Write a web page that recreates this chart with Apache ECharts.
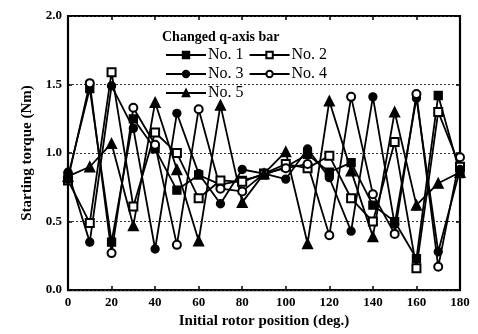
<!DOCTYPE html>
<html>
<head>
<meta charset="utf-8">
<script src="https://cdn.jsdelivr.net/npm/echarts@6/dist/echarts.min.js"></script>
<style>
  html, body { margin: 0; padding: 0; background: #fff; }
  #chart { width: 478px; height: 334px; }
</style>
</head>
<body>
<div id="chart"></div>
<script>
// Initial rotor position (deg.)
var positions = [0, 10, 20, 30, 40, 50, 60, 70, 80, 90, 100, 110, 120, 130, 140, 150, 160, 170, 180];

// Starting torque (Nm) for each changed q-axis bar
var bar1 = [0.83, 1.47, 0.35, 1.25, 1.03, 0.73, 0.84, 0.77, 0.80, 0.84, 0.90, 0.99, 0.86, 0.93, 0.62, 0.50, 0.23, 1.42, 0.85];
var bar2 = [0.80, 0.49, 1.59, 0.61, 1.15, 1.00, 0.67, 0.80, 0.79, 0.85, 0.92, 0.89, 0.98, 0.67, 0.50, 1.08, 0.16, 1.30, 0.90];
var bar3 = [0.86, 0.35, 1.49, 1.18, 0.30, 1.29, 0.85, 0.63, 0.88, 0.85, 0.81, 1.03, 0.82, 0.43, 1.41, 0.48, 1.40, 0.28, 0.88];
var bar4 = [0.81, 1.51, 0.27, 1.33, 1.06, 0.33, 1.32, 0.74, 0.72, 0.85, 0.89, 0.92, 0.40, 1.41, 0.70, 0.41, 1.43, 0.17, 0.97];
var bar5 = [0.83, 0.90, 1.07, 0.47, 1.37, 0.88, 0.36, 1.35, 0.64, 0.85, 1.01, 0.34, 1.38, 0.87, 0.39, 1.30, 0.62, 0.78, 0.86];

var seriesNames = ['No. 1', 'No. 2', 'No. 3', 'No. 4', 'No. 5'];
var seriesValues = [bar1, bar2, bar3, bar4, bar5];
var seriesSymbols = ['rect', 'emptyRect', 'circle', 'emptyCircle', 'triangle'];

var yTicks = [0, 0.5, 1.0, 1.5, 2.0];
var xTicks = [0, 20, 40, 60, 80, 100, 120, 140, 160, 180];

var serif = '"Liberation Serif", "Times New Roman", serif';

function pairs(values) {
  return positions.map(function (p, i) { return [p, values[i]]; });
}

var series = seriesNames.map(function (name, i) {
  return {
    name: name,
    type: 'line',
    data: pairs(seriesValues[i]),
    symbol: seriesSymbols[i],
    symbolSize: seriesSymbols[i] === 'triangle' ? 10 : 8,
    lineStyle: { color: '#000', width: 1.8 },
    itemStyle: { color: '#000', borderColor: '#000', borderWidth: 1.3 },
    emphasis: { disabled: true },
    animation: false,
    z: 3
  };
});

var legendBase = {
  left: 160,
  itemWidth: 40,
  itemHeight: 8,
  itemGap: 5,
  textStyle: { fontFamily: serif, fontSize: 16, color: '#000', padding: [0, 0, 0, -3] },
  selectedMode: false
};

var tick = { show: true, inside: true, length: 4, lineStyle: { color: '#000', width: 1.5 } };
var noLine = { show: false, onZero: false };

var chart = echarts.init(document.getElementById('chart'), null, { renderer: 'canvas' });
chart.setOption({
  backgroundColor: '#fff',
  animation: false,
  title: {
    text: 'Changed q-axis bar',
    left: 157,
    top: 25,
    textStyle: { fontFamily: serif, fontSize: 14, fontWeight: 'bold', color: '#000' }
  },
  legend: [
    Object.assign({ top: 42, data: ['No. 1', 'No. 2'] }, legendBase),
    Object.assign({ top: 61, data: ['No. 3', 'No. 4'] }, legendBase),
    Object.assign({ top: 80, data: ['No. 5'] }, legendBase)
  ],
  // framed plot area
  grid: {
    left: 68, right: 18, top: 16, bottom: 41, containLabel: false,
    show: true, borderColor: '#000', borderWidth: 2.2, backgroundColor: 'transparent'
  },
  xAxis: [
    {
      type: 'value', min: 0, max: 180, interval: 20,
      axisLine: noLine,
      axisTick: tick,
      axisLabel: {
        fontFamily: serif, fontSize: 13, fontWeight: 'bold', color: '#000', margin: 6,
        formatter: function (v) { return xTicks.indexOf(v) >= 0 ? String(v) : ''; }
      },
      splitLine: { show: false },
      name: 'Initial rotor position (deg.)',
      nameLocation: 'middle',
      nameGap: 22,
      nameTextStyle: { fontFamily: serif, fontSize: 15, fontWeight: 'bold', color: '#000' }
    },
    {
      type: 'value', min: 0, max: 180, interval: 20, position: 'top',
      axisLine: noLine,
      axisTick: tick,
      axisLabel: { show: false },
      splitLine: { show: false }
    }
  ],
  yAxis: [
    {
      type: 'value', min: 0, max: 2, interval: 0.5,
      axisLine: noLine,
      axisTick: tick,
      axisLabel: {
        fontFamily: serif, fontSize: 13, fontWeight: 'bold', color: '#000', margin: 6,
        formatter: function (v) { return yTicks.indexOf(v) >= 0 ? v.toFixed(1) : ''; }
      },
      splitLine: { show: true, lineStyle: { color: '#333', type: [2, 2], width: 1 } },
      name: 'Starting torque (Nm)',
      nameLocation: 'middle',
      nameGap: 33,
      nameTextStyle: { fontFamily: serif, fontSize: 15, fontWeight: 'bold', color: '#000' }
    },
    {
      type: 'value', min: 0, max: 2, interval: 0.5, position: 'right',
      axisLine: noLine,
      axisTick: tick,
      axisLabel: { show: false },
      splitLine: { show: false }
    }
  ],
  series: series
});
</script>
</body>
</html>
